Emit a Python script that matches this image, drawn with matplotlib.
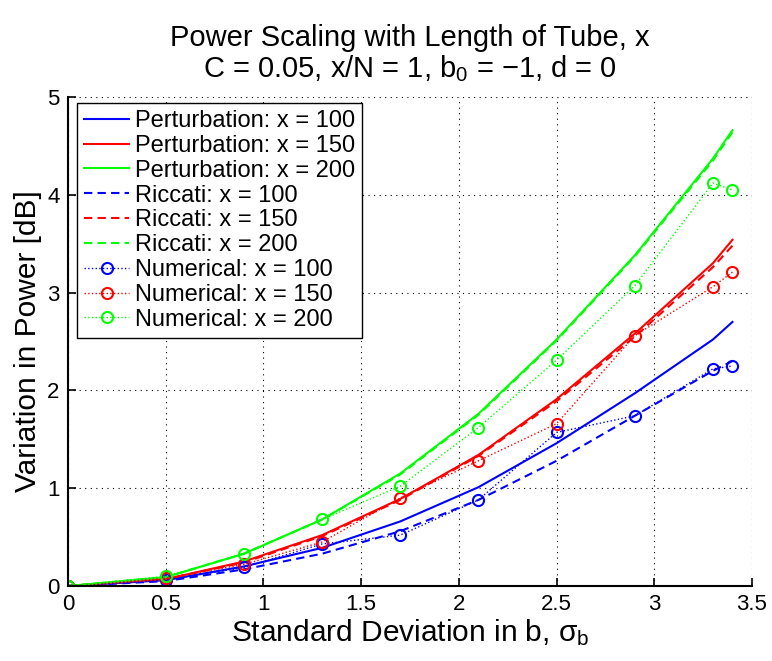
import matplotlib.pyplot as plt
import numpy as np

plt.rcParams['font.family'] = ['Liberation Sans', 'DejaVu Sans']
plt.rcParams['mathtext.fontset'] = 'custom'
plt.rcParams['mathtext.rm'] = 'Liberation Sans'
plt.rcParams['mathtext.it'] = 'Liberation Sans:italic'

# standard deviation values (shared by all series)
sigma = [0, 0.5, 0.9, 1.3, 1.7, 2.1, 2.5, 2.9, 3.3, 3.4]

# perturbation theory
pert_100 = [0, 0.06, 0.20, 0.39, 0.66, 1.01, 1.46, 1.97, 2.52, 2.70]
pert_150 = [0, 0.07, 0.25, 0.52, 0.89, 1.34, 1.91, 2.58, 3.30, 3.54]
pert_200 = [0, 0.09, 0.33, 0.68, 1.15, 1.76, 2.52, 3.38, 4.37, 4.66]

# Riccati
ric_100 = [0, 0.05, 0.17, 0.33, 0.56, 0.88, 1.28, 1.74, 2.20, 2.30]
ric_150 = [0, 0.07, 0.24, 0.51, 0.88, 1.33, 1.89, 2.55, 3.26, 3.48]
ric_200 = [0, 0.09, 0.33, 0.68, 1.14, 1.75, 2.51, 3.37, 4.35, 4.64]

# numerical simulation
num_100 = [0, 0.06, 0.19, 0.43, 0.52, 0.88, 1.57, 1.74, 2.22, 2.25]
num_150 = [0, 0.08, 0.22, 0.45, 0.90, 1.28, 1.66, 2.56, 3.06, 3.21]
num_200 = [0, 0.10, 0.33, 0.68, 1.02, 1.62, 2.31, 3.07, 4.12, 4.05]

fig = plt.figure(figsize=(7.72, 6.61), dpi=100)
ax = fig.add_axes([68 / 772, 75 / 661, 684 / 772, 489 / 661])

blue, red, green = (0, 0, 1), (1, 0, 0), (0, 1, 0)
lw = 1.5
dash = (4, 2.5)
ax.plot(sigma, pert_100, '-', color=blue, lw=lw, label='Perturbation: x = 100')
ax.plot(sigma, pert_150, '-', color=red, lw=lw, label='Perturbation: x = 150')
ax.plot(sigma, pert_200, '-', color=green, lw=lw, label='Perturbation: x = 200')
ax.plot(sigma, ric_100, '--', color=blue, lw=lw, dashes=dash, label='Riccati: x = 100')
ax.plot(sigma, ric_150, '--', color=red, lw=lw, dashes=dash, label='Riccati: x = 150')
ax.plot(sigma, ric_200, '--', color=green, lw=lw, dashes=dash, label='Riccati: x = 200')
for vals, c, n in [(num_100, blue, 100), (num_150, red, 150), (num_200, green, 200)]:
    ax.plot(sigma, vals, ':', color=c, lw=1.0, marker='o', markersize=8,
            markerfacecolor='none', markeredgewidth=1.5, label=f'Numerical: x = {n}')

ax.set_xlim(0, 3.5)
ax.set_ylim(0, 5)
ax.set_xticks(np.arange(0, 3.51, 0.5))
ax.set_xticklabels(['0', '0.5', '1', '1.5', '2', '2.5', '3', '3.5'])
ax.set_yticks(range(6))
ax.tick_params(direction='in', length=6, width=1.2, labelsize=16, pad=6)
ax.grid(True, color='black', linestyle=(0, (1, 4)), linewidth=0.8)
for s in ['top', 'right']:
    ax.spines[s].set_visible(False)
for s in ['left', 'bottom']:
    ax.spines[s].set_linewidth(1.5)

ax.set_xlabel('Standard Deviation in b, \u03c3$_\\mathrm{b}$', fontsize=21.5, labelpad=1)
ax.set_ylabel('Variation in Power [dB]', fontsize=21.5, labelpad=4)
ax.set_title('Power Scaling with Length of Tube, x\n'
             'C = 0.05, x/N = 1, b$_\\mathrm{0}$ = \u22121, d = 0', fontsize=21, pad=14,
             linespacing=1.05)

leg = ax.legend(loc='upper left', bbox_to_anchor=(9 / 684, 1 - 6 / 489), fontsize=17,
                fancybox=False, edgecolor='black', framealpha=1, borderpad=0.3,
                labelspacing=0.12, handlelength=1.9, handletextpad=0.25, borderaxespad=0)
leg.get_frame().set_linewidth(1.0)

plt.savefig('out.png', dpi=100)
